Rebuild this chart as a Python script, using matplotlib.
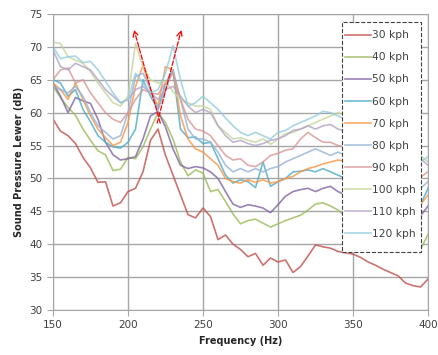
import numpy as np
import matplotlib
matplotlib.use("Agg")
import matplotlib.pyplot as plt
from matplotlib.patches import Rectangle

freq = np.arange(150, 401, 5)

s30 = [59.0, 57.2, 56.5, 55.3, 53.2, 51.6, 49.4, 49.5, 45.8, 46.3,
       48.0, 48.5, 51.0, 55.8, 57.5, 53.5, 50.5, 47.5, 44.5, 44.0,
       45.5, 44.2, 40.7, 41.4, 40.0, 39.2, 38.1, 38.6, 36.8, 37.9,
       37.3, 37.6, 35.7, 36.6, 38.2, 39.9, 39.6, 39.4, 38.9, 38.7,
       38.5, 38.0, 37.3, 36.8, 36.2, 35.7, 35.2, 34.1, 33.7, 33.5,
       34.7]
s40 = [64.0, 62.3, 60.8, 59.6, 57.5, 55.8, 54.2, 53.6, 51.2, 51.4,
       53.2, 53.0, 54.8, 57.5, 60.0, 58.5, 56.0, 52.5, 50.4, 51.3,
       50.8, 48.0, 48.3, 46.5, 44.6, 43.1, 43.6, 43.8, 43.2, 42.6,
       43.1, 43.6, 44.0, 44.4, 45.2, 46.1, 46.3, 45.8, 45.2, 44.2,
       43.4, 42.8, 42.2, 41.6, 41.0, 40.5, 40.0, 39.4, 39.0, 39.2,
       41.5]
s50 = [64.5, 62.5, 60.0, 62.3, 61.8, 61.4, 59.0, 55.5, 53.6, 52.8,
       53.0, 53.3, 56.0, 59.5, 60.2, 57.8, 54.5, 52.0, 51.5, 51.8,
       51.6, 51.0, 50.0, 48.0, 46.1, 45.6, 46.0, 45.8, 45.5, 44.8,
       46.0, 47.3, 48.0, 48.3, 48.5, 48.0, 48.5, 48.8, 48.0, 47.5,
       47.2, 46.8, 46.5, 46.2, 46.0, 45.7, 45.4, 45.0, 44.6, 44.3,
       45.8]
s60 = [65.0, 64.5, 62.5, 63.5, 60.5, 58.6, 56.5, 55.5, 54.8, 54.6,
       55.5, 57.5, 65.0, 62.5, 60.5, 64.5, 66.5, 57.5, 56.2, 56.3,
       55.3, 55.5, 53.0, 50.5, 49.3, 49.8, 49.5, 48.6, 52.5, 48.8,
       49.5, 50.0, 51.0, 51.1, 51.3, 51.0, 51.5, 51.0, 50.5, 50.0,
       49.5, 49.0, 48.6, 48.2, 47.8, 47.5, 47.0, 46.6, 46.3, 46.0,
       48.5]
s70 = [64.5, 63.5, 62.0, 64.5, 62.0, 59.5, 57.5, 56.2, 55.0, 55.5,
       58.5, 64.0, 67.2, 63.5, 61.0, 67.0, 66.5, 59.5, 56.0, 54.5,
       54.0, 53.0, 52.0, 50.0, 49.5, 49.3, 49.8, 49.4, 49.8, 49.3,
       49.5, 50.0, 50.3, 51.0, 51.5, 51.8, 52.2, 52.5, 52.8, 52.6,
       52.0, 51.4, 50.8, 50.2, 49.6, 49.0, 48.4, 47.8, 47.0, 46.0,
       47.5]
s80 = [64.0, 63.5, 63.0, 64.0, 62.5, 60.0, 58.0, 57.0, 56.0, 56.5,
       60.0, 65.5, 66.0, 63.5, 60.5, 63.5, 66.5, 62.0, 57.5, 56.0,
       56.0, 55.5, 54.0, 52.0, 51.0, 51.5, 51.0, 51.5, 51.0, 51.5,
       51.8, 52.5, 53.0, 53.5, 54.0, 54.5, 54.0, 53.5, 54.0, 53.5,
       53.0, 52.5, 52.0, 51.5, 51.0, 50.5, 50.0, 49.5, 49.0, 48.5,
       49.5]
s90 = [65.0, 66.5, 66.8, 64.5, 65.0, 63.0, 61.5, 60.0, 59.0, 58.5,
       60.0, 62.0, 63.5, 63.0, 62.8, 64.5, 66.0, 62.0, 59.0, 57.5,
       57.2, 56.5, 55.0, 53.5, 52.8, 53.0, 52.0, 51.8, 52.5, 53.5,
       53.8, 54.3, 54.5, 56.0, 57.0, 56.2, 55.5, 55.5, 55.0, 54.8,
       54.5, 54.0, 53.6, 53.2, 52.8, 52.4, 52.0, 51.6, 51.0, 50.2,
       51.0]
s100 = [70.7, 70.5, 68.5, 68.0, 67.5, 66.2, 64.5, 63.0, 61.5, 61.0,
        62.5, 70.5, 67.0, 65.0, 64.5, 64.8, 63.2, 62.0, 61.5, 61.0,
        61.0, 60.5, 58.0, 57.0, 56.0, 56.2, 55.8, 55.5, 56.0, 55.2,
        56.0, 56.8, 57.0, 57.5, 58.0, 58.5, 59.0, 59.5, 60.0, 59.5,
        59.0, 58.5, 58.0, 57.4, 56.8, 56.2, 55.6, 55.0, 54.4, 53.5,
        52.5]
s110 = [69.5, 67.0, 66.5, 67.5, 67.0, 66.5, 65.0, 63.5, 62.5, 61.5,
        62.0, 63.5, 64.0, 63.0, 62.0, 63.5, 64.0, 62.5, 61.0, 60.0,
        60.5, 60.0, 58.0, 56.5, 55.5, 55.8, 55.3, 55.0, 55.3, 55.8,
        56.0, 56.5, 57.3, 57.5, 58.0, 57.5, 58.0, 58.2, 57.5, 57.2,
        56.8, 56.4, 56.0, 55.6, 55.2, 54.8, 54.4, 54.0, 53.5, 53.0,
        52.0]
s120 = [70.0, 68.2, 68.5, 68.6, 67.6, 67.8, 66.5, 64.8, 63.0, 61.5,
        62.0, 66.0, 64.5, 63.0, 63.5, 66.0, 70.2, 65.0, 61.0, 61.5,
        62.5, 61.5, 60.5, 59.2, 58.0, 57.0, 56.5, 57.0, 56.5, 56.0,
        57.0, 57.3, 58.0, 58.5, 59.0, 59.5, 60.2, 60.0, 59.5, 59.0,
        58.4, 57.8, 57.2, 56.6, 56.0, 55.4, 54.8, 54.2, 53.5, 52.5,
        53.3]

series = [s30, s40, s50, s60, s70, s80, s90, s100, s110, s120]
labels = ["30 kph", "40 kph", "50 kph", "60 kph", "70 kph",
          "80 kph", "90 kph", "100 kph", "110 kph", "120 kph"]
colors = ["#C0504D", "#9BBB59", "#8064A2", "#4BACC6", "#F79646",
          "#95B3D7", "#D99694", "#C3D69B", "#B3A2C7", "#93CDDD"]

fig = plt.figure(figsize=(4.39, 3.55), dpi=100)
ax = fig.add_axes([0.1207, 0.1268, 0.8543, 0.8338])

for y, lab, c in zip(series, labels, colors):
    ax.plot(freq, y, color=c, lw=1.2, alpha=0.8, label=lab)

# red dashed arrows marking the two peaks
arr = dict(arrowstyle="->", color="red", linestyle="--", lw=0.9)
ax.annotate("", xy=(203.5, 73), xytext=(222, 58), arrowprops=arr)
ax.annotate("", xy=(236, 73), xytext=(219, 58), arrowprops=arr)

ax.set_xlim(150, 400)
ax.set_ylim(30, 75)
ax.set_xticks(np.arange(150, 401, 50))
ax.set_yticks(np.arange(30, 76, 5))
ax.grid(True, color="#A6A6A6", lw=1.0)
ax.set_axisbelow(True)
for sp in ax.spines.values():
    sp.set_color("#A6A6A6")
ax.tick_params(colors="#A6A6A6", labelcolor="#404040", labelsize=7.5, length=4)

ax.set_xlabel("Frequency (Hz)", fontsize=7, fontweight="bold", color="#262626")
ax.set_ylabel("Sound Pressure Lewer (dB)", fontsize=7, fontweight="bold", color="#262626")

# dashed legend box drawn by hand so its size matches
box = Rectangle((0.771, 0.196), 0.21, 0.777, transform=ax.transAxes,
                facecolor="white", edgecolor="#404040", ls="--", lw=0.8,
                zorder=4, clip_on=False)
ax.add_patch(box)
leg = ax.legend(loc="upper left", bbox_to_anchor=(0.778, 0.945), fontsize=7.7,
                frameon=False, handlelength=2.45, handletextpad=0.12,
                labelspacing=1.13, borderpad=0, borderaxespad=0)
for t in leg.get_texts():
    t.set_color("#404040")

fig.savefig("out.png", dpi=100)
